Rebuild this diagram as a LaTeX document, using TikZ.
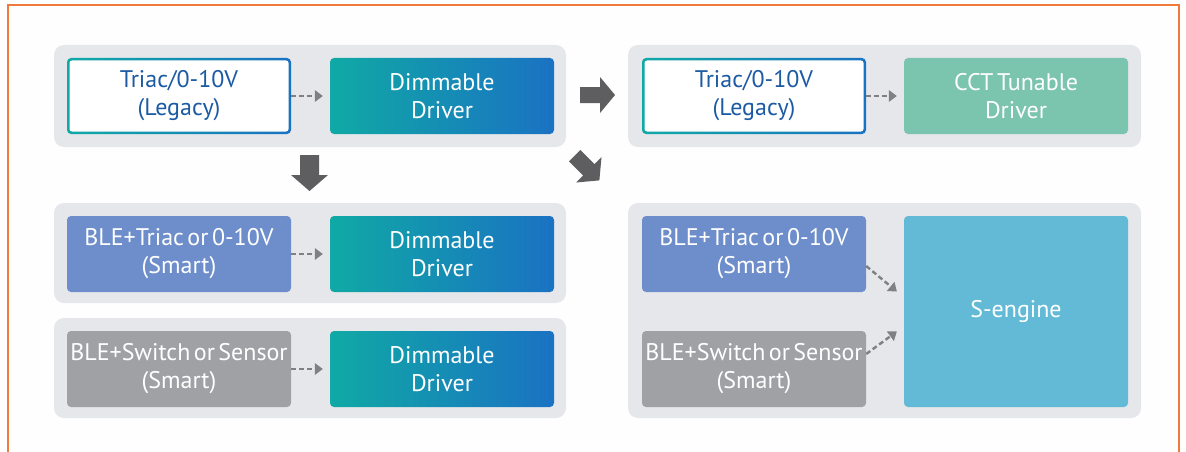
\documentclass[tikz,border=0pt]{standalone}
\usepackage{fontspec}
\setmainfont{PT Sans}[WordSpace=0.55]
\usetikzlibrary{arrows.meta,calc}
\definecolor{frameor}{HTML}{F07A3C}
\definecolor{panelgray}{HTML}{E6E7EA}
\definecolor{legacytext}{HTML}{1C5AA4}
\definecolor{tealc}{HTML}{10A9A5}
\definecolor{bluec}{HTML}{1A72C3}
\definecolor{cctc}{HTML}{7BC4AD}
\definecolor{smartblue}{HTML}{6E8ECB}
\definecolor{smartgray}{HTML}{A0A1A5}
\definecolor{sengine}{HTML}{62BAD7}
\definecolor{dasharr}{HTML}{808083}
\definecolor{bigarr}{HTML}{5E5E60}
\begin{document}
\begin{tikzpicture}[x=1pt,y=-1pt,
  panel/.style={fill=panelgray,rounded corners=10pt},
  boxbase/.style={minimum width=224pt,minimum height=76pt,rounded corners=4pt,inner sep=0pt,align=center,
    font=\fontsize{24}{28}\selectfont},
  legacy/.style={boxbase,text=legacytext,
    path picture={\shade[left color=tealc,right color=bluec] (path picture bounding box.south west) rectangle (path picture bounding box.north east);
      \fill[white,rounded corners=2.5pt] ([shift={(2.5pt,2.5pt)}]path picture bounding box.south west) rectangle ([shift={(-2.5pt,-2.5pt)}]path picture bounding box.north east);}},
  dimm/.style={boxbase,text=white,left color=tealc,right color=bluec},
  cct/.style={boxbase,text=white,fill=cctc},
  sblue/.style={boxbase,text=white,fill=smartblue},
  sgray/.style={boxbase,text=white,fill=smartgray},
  seng/.style={boxbase,text=white,fill=sengine,minimum height=191pt},
  darr/.style={draw=dasharr,line width=2.4pt,dash pattern=on 5pt off 3pt,
    -{Triangle[length=8pt,width=12pt,fill=dasharr,line width=0pt]}},
  bigarrow/.style={fill=bigarr,draw=none}
]
\useasboundingbox (0,0) rectangle (1186,452);
\fill[white!99!gray] (0,0) rectangle (1186,452);
\draw[frameor,line width=1.5pt] (8,452) -- (8,5) -- (1179,5) -- (1179,452);

% panels
\fill[panel] (54,45) rectangle (566,147);
\fill[panel] (628,45) rectangle (1141,147);
\fill[panel] (54,203) rectangle (566,303);
\fill[panel] (54,318) rectangle (566,418);
\fill[panel] (628,203) rectangle (1141,418);

% panel 1
\node[legacy] (l1) at (179,96) {Triac/0-10V\\(Legacy)};
\node[dimm] (d1) at (442,96) {Dimmable\\Driver};
\draw[darr] (l1.east) -- ([xshift=-7pt]d1.west);

% panel 2
\node[legacy] (l2) at (754,96) {Triac/0-10V\\(Legacy)};
\node[cct] (c2) at (1016,96) {CCT Tunable\\Driver};
\draw[darr] (l2.east) -- ([xshift=-7pt]c2.west);

% panel 3
\node[sblue] (b3) at (179,254) {BLE+Triac or 0-10V\\(Smart)};
\node[dimm] (d3) at (442,254) {Dimmable\\Driver};
\draw[darr] (b3.east) -- ([xshift=-7pt]d3.west);

% panel 4
\node[sgray] (s4) at (179,369) {BLE+Switch or Sensor\\(Smart)};
\node[dimm] (d4) at (442,369) {Dimmable\\Driver};
\draw[darr] (s4.east) -- ([xshift=-7pt]d4.west);

% panel 5
\node[sblue] (b5) at (754,254) {BLE+Triac or 0-10V\\(Smart)};
\node[sgray] (s5) at (754,369) {BLE+Switch or Sensor\\(Smart)};
\node[seng] (e5) at (1016,311.5) {S-engine};
\coordinate (t1) at ([shift={(-7pt,20pt)}]e5.west);
\coordinate (t2) at ([shift={(-7pt,-20pt)}]e5.west);
\draw[darr] ([yshift=-12pt]b5.east) -- (t1);
\draw[darr] ([yshift=15pt]s5.east) -- (t2);

% big arrows
\fill[bigarrow] (580,87) -- (600,87) -- (600,77) -- (615,95) -- (600,113) -- (600,103) -- (580,103) -- cycle;
\fill[bigarrow] (300,155) -- (319,155) -- (319,175) -- (328,175) -- (309.5,191) -- (291,175) -- (300,175) -- cycle;
\begin{scope}[shift={(587,168)},rotate=-45]
\fill[bigarrow] (-17.5,-8) -- (2.5,-8) -- (2.5,-18) -- (17.5,0) -- (2.5,18) -- (2.5,8) -- (-17.5,8) -- cycle;
\end{scope}
\end{tikzpicture}
\end{document}
